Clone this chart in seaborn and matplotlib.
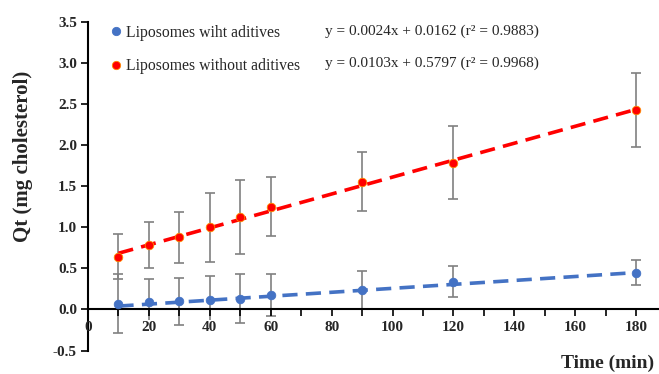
import matplotlib
matplotlib.use("Agg")
import matplotlib.pyplot as plt
import seaborn as sns
import numpy as np
import pandas as pd
from matplotlib.ticker import MultipleLocator, FixedLocator
from matplotlib.lines import Line2D

# ---- data ----
time_min = [10, 20, 30, 40, 50, 60, 90, 120, 180]
with_add = [0.067, 0.088, 0.10, 0.115, 0.13, 0.176, 0.237, 0.338, 0.448]
with_add_err = [0.36, 0.28, 0.285, 0.29, 0.30, 0.26, 0.235, 0.19, 0.15]
without_add = [0.643, 0.785, 0.88, 1.0, 1.13, 1.25, 1.555, 1.786, 2.427]
without_add_err = [0.27, 0.28, 0.31, 0.42, 0.45, 0.36, 0.355, 0.44, 0.45]
series_names = ["Liposomes wiht aditives", "Liposomes without aditives"]
equations = ["y = 0.0024x + 0.0162 (r\u00b2 = 0.9883)",
             "y = 0.0103x + 0.5797 (r\u00b2 = 0.9968)"]
slopes = [0.0024, 0.0103]
intercepts = [0.0162, 0.5797]
fit_range = [10, 180]
x_ticks = [0, 20, 40, 60, 80, 100, 120, 140, 160, 180]
y_ticks = [-0.5, 0.0, 0.5, 1.0, 1.5, 2.0, 2.5, 3.0, 3.5]

colors = ["#4472C4", "#FF0000"]
edges = ["#4472C4", "#FF8C00"]

sns.set_style("white")
plt.rcParams["font.family"] = ["Liberation Serif", "DejaVu Serif"]

fig = plt.figure(figsize=(6.59, 3.74), dpi=100)
ax = fig.add_axes([88 / 659, 23.5 / 374, 1 - 88 / 659, (350.5 - 21.7) / 374])
ax.set_axisbelow(False)

df = pd.DataFrame({
    "time": time_min * 2,
    "qt": with_add + without_add,
    "err": with_add_err + without_add_err,
    "series": [series_names[0]] * len(time_min) + [series_names[1]] * len(time_min),
})

# trend lines
for i, name in enumerate(series_names):
    xs = np.array(fit_range, dtype=float)
    ys = slopes[i] * xs + intercepts[i]
    sns.lineplot(x=xs, y=ys, ax=ax, color=colors[i], lw=2.6,
                 dashes=False, zorder=2).lines[-1].set_dashes([4.2, 2.3])

# error bars
for i, name in enumerate(series_names):
    sub = df[df.series == name]
    ax.errorbar(sub.time, sub.qt, yerr=sub.err, fmt="none", ecolor="#808080",
                elinewidth=1.2, capsize=3.5, capthick=1.2, zorder=1.5)

# points
for i, name in enumerate(series_names):
    sub = df[df.series == name]
    sns.scatterplot(data=sub, x="time", y="qt", ax=ax, color=colors[i],
                    edgecolor=edges[i], linewidth=0.6, s=38, zorder=4, legend=False)

ax.set_xlim(0, 187.5)
ax.set_ylim(-0.5, 3.5)

for s in ["top", "right"]:
    ax.spines[s].set_visible(False)
ax.spines["bottom"].set_position(("data", 0))
for s in ["left", "bottom"]:
    ax.spines[s].set_color("black")
    ax.spines[s].set_linewidth(1.5)

ax.xaxis.set_major_locator(FixedLocator(x_ticks))
ax.xaxis.set_minor_locator(MultipleLocator(10))
ax.yaxis.set_major_locator(FixedLocator(y_ticks))
ax.set_xticklabels([str(t) for t in x_ticks], fontweight="bold", fontsize=11)
ax.set_yticklabels([f"{t:.1f}" for t in y_ticks], fontweight="bold", fontsize=11)
for lbl in ax.get_xticklabels()[1:]:
    lbl.set_bbox(dict(facecolor="white", edgecolor="none", pad=0.5))
ax.tick_params(axis="both", which="both", direction="out", color="black",
               width=1.2, bottom=True, left=True)
ax.tick_params(axis="x", which="major", length=5, pad=3)
ax.tick_params(axis="x", which="minor", length=5)
ax.tick_params(axis="y", which="major", length=5, pad=3)
ax.set_xlabel("")
ax.set_ylabel("")

fig.text(654 / 659, 1 - 363 / 374, "Time (min)", ha="right", va="center",
         fontsize=14, fontweight="bold")
fig.text(23 / 659, 1 - 156 / 374, "Qt (mg cholesterol)", ha="center", va="center",
         rotation=90, fontsize=15, fontweight="bold")

# legend
handles = [Line2D([], [], ls="none", marker="o", markersize=6, color=colors[i],
                  markeredgecolor=edges[i], markeredgewidth=0.6) for i in range(2)]
leg = ax.legend(handles, series_names, loc="upper left",
                bbox_to_anchor=((108 - 88 - 11) / 571, 1.0 + 11 / 329),
                frameon=False, handlelength=0.6, handletextpad=0.36,
                labelspacing=1.1, prop={"size": 11.3})

for i, eq in enumerate(equations):
    fig.text(325 / 659, 1 - (31 + 32 * i) / 374, eq, ha="left", va="center", fontsize=11)

fig.savefig("out.png", dpi=100)
